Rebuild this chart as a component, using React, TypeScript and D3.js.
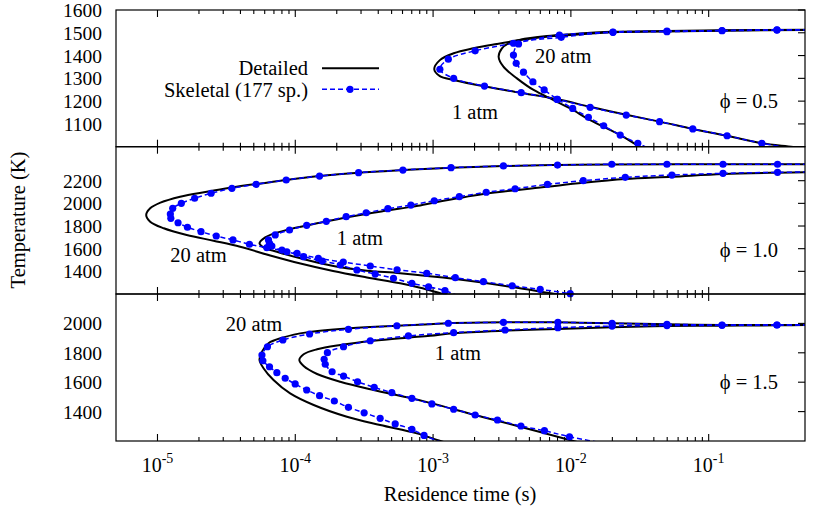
import React from 'react';
import * as d3 from 'd3';

type Pt = [number, number];

// x axis: residence time (s), log scale
const tauDomain: [number, number] = [5e-6, 0.5];
const tauDecades = [-5, -4, -3, -2, -1];

// y axes: temperature (K)
const tDomain05: [number, number] = [1000, 1600];
const tTicks05 = [1100, 1200, 1300, 1400, 1500, 1600];
const tDomain10: [number, number] = [1200, 2500];
const tTicks10 = [1400, 1600, 1800, 2000, 2200];
const tDomain15: [number, number] = [1200, 2200];
const tTicks15 = [1400, 1600, 1800, 2000];

// phi = 0.5  [tau (s), T (K)]
const phi05Detailed1atm: Pt[] = [
  [0.6, 1513], [0.125, 1509], [4.98e-2, 1506], [2.02e-2, 1502], [9.89e-3, 1490], [6.7e-3, 1483],
  [4.29e-3, 1468], [2.9e-3, 1451], [1.96e-3, 1432], [1.41e-3, 1410], [1.12e-3, 1380], [1.02e-3, 1340],
  [1.12e-3, 1310], [1.41e-3, 1293], [2.45e-3, 1263], [4.29e-3, 1237], [8.0e-3, 1208], [1.38e-2, 1175],
  [2.52e-2, 1140], [4.4e-2, 1110], [7.67e-2, 1078], [0.136, 1048], [0.243, 1015], [0.41, 999], [0.6, 985],
];
const phi05Skeletal1atm: Pt[] = [
  [0.6, 1513], [0.313, 1512], [0.125, 1509], [4.98e-2, 1505], [2.02e-2, 1502], [8.26e-3, 1490],
  [3.83e-3, 1454], [2.02e-3, 1421], [1.29e-3, 1384], [1.12e-3, 1340], [1.41e-3, 1300], [2.36e-3, 1266],
  [4.36e-3, 1237], [7.91e-3, 1208], [1.38e-2, 1173], [2.52e-2, 1139], [4.4e-2, 1110], [7.67e-2, 1078],
  [0.136, 1048], [0.243, 1015], [0.6, 977],
];
const phi05Detailed20atm: Pt[] = [
  [0.6, 1514], [0.125, 1511], [4.98e-2, 1508], [2.02e-2, 1504], [1.0e-2, 1494], [6.7e-3, 1486],
  [4.29e-3, 1470], [3.52e-3, 1454], [3.16e-3, 1432], [2.99e-3, 1395], [3.24e-3, 1351], [4.06e-3, 1300],
  [5.36e-3, 1249], [7.48e-3, 1205], [9.89e-3, 1168], [1.38e-2, 1117], [2.28e-2, 1051], [3.18e-2, 999],
  [4.0e-2, 970],
];
const phi05Skeletal20atm: Pt[] = [
  [0.6, 1514], [0.313, 1513], [0.125, 1510], [4.98e-2, 1507], [2.02e-2, 1503], [8.51e-3, 1480],
  [4.17e-3, 1451], [3.83e-3, 1402], [4.01e-3, 1366], [4.53e-3, 1327], [5.3e-3, 1285], [6.4e-3, 1249],
  [8.0e-3, 1208], [1.03e-2, 1168], [1.34e-2, 1129], [1.73e-2, 1092], [2.28e-2, 1051], [3.06e-2, 1015],
  [4.5e-2, 968],
];

// phi = 1.0
const phi10Detailed1atm: Pt[] = [
  [0.6, 2276], [0.316, 2271], [0.127, 2259], [5.41e-2, 2235], [2.48e-2, 2215], [1.23e-2, 2182],
  [6.76e-3, 2147], [2.32e-3, 2083], [1.02e-3, 2007], [8.06e-4, 1981], [5.77e-4, 1955], [4.37e-4, 1932],
  [2.5e-4, 1882], [1.44e-4, 1824], [9.71e-5, 1780], [7.35e-5, 1741], [6.05e-5, 1700], [5.5e-5, 1647],
  [5.88e-5, 1612], [7.35e-5, 1573], [1.09e-4, 1515], [1.89e-4, 1447], [3.31e-4, 1406], [5.77e-4, 1383],
  [1.45e-3, 1332], [3.75e-3, 1262], [7.69e-3, 1200], [1.0e-2, 1180],
];
const phi10Skeletal1atm: Pt[] = [
  [0.6, 2277], [0.316, 2274], [0.127, 2265], [5.41e-2, 2250], [2.48e-2, 2230], [1.23e-2, 2200],
  [6.76e-3, 2168], [3.94e-3, 2129], [2.43e-3, 2098], [1.55e-3, 2059], [1.02e-3, 2023], [6.9e-4, 1985],
  [4.7e-4, 1953], [3.27e-4, 1917], [2.34e-4, 1882], [1.68e-4, 1841], [1.21e-4, 1806], [9.08e-5, 1765],
  [7.15e-5, 1721], [6.39e-5, 1677], [6.5e-5, 1647], [6.76e-5, 1623], [8.0e-5, 1588], [1.03e-4, 1559],
  [1.47e-4, 1515], [2.23e-4, 1482], [3.5e-4, 1447], [5.48e-4, 1414], [9.0e-4, 1383], [1.45e-3, 1344],
  [2.32e-3, 1309], [3.75e-3, 1273], [5.99e-3, 1241], [9.89e-3, 1203], [1.5e-2, 1165],
];
const phi10Detailed20atm: Pt[] = [
  [0.6, 2346], [0.125, 2345], [2.0e-2, 2344], [8.0e-3, 2338], [3.24e-3, 2330], [1.35e-3, 2315],
  [6.04e-4, 2294], [2.88e-4, 2271], [1.5e-4, 2241], [8.59e-5, 2206], [6.58e-5, 2186], [5.26e-5, 2171],
  [3.37e-5, 2138], [2.28e-5, 2103], [1.46e-5, 2059], [1.05e-5, 2006], [8.85e-6, 1956], [8.28e-6, 1897],
  [8.85e-6, 1838], [1.11e-5, 1780], [1.63e-5, 1721], [2.55e-5, 1670], [3.98e-5, 1617], [6.58e-5, 1540],
  [1.09e-4, 1469], [1.88e-4, 1403], [3.31e-4, 1346], [5.77e-4, 1294], [8.06e-4, 1255], [1.19e-3, 1200],
  [1.5e-3, 1170],
];
const phi10Skeletal20atm: Pt[] = [
  [0.6, 2346], [0.316, 2345], [0.127, 2345], [4.98e-2, 2345], [1.98e-2, 2345], [8.0e-3, 2338],
  [3.24e-3, 2330], [1.35e-3, 2315], [6.04e-4, 2294], [2.88e-4, 2271], [1.5e-4, 2241], [8.59e-5, 2206],
  [5.2e-5, 2168], [3.47e-5, 2133], [2.45e-5, 2089], [1.86e-5, 2045], [1.49e-5, 2000], [1.29e-5, 1956],
  [1.24e-5, 1906], [1.25e-5, 1868], [1.41e-5, 1829], [1.65e-5, 1789], [2.07e-5, 1750], [2.67e-5, 1712],
  [3.53e-5, 1677], [4.65e-5, 1639], [6.22e-5, 1609], [8.69e-5, 1573], [1.15e-4, 1529], [1.57e-4, 1491],
  [2.12e-4, 1456], [2.8e-4, 1412], [3.8e-4, 1376], [5.16e-4, 1339], [7.02e-4, 1294], [9.27e-4, 1264],
  [1.22e-3, 1229], [1.7e-3, 1160],
];

// phi = 1.5
const phi15Detailed1atm: Pt[] = [
  [0.6, 1989], [0.313, 1987], [0.125, 1984], [4.98e-2, 1982], [1.99e-2, 1973], [8.05e-3, 1962],
  [3.24e-3, 1950], [1.41e-3, 1933], [9.53e-4, 1916], [6.46e-4, 1903], [3.69e-4, 1882], [2.12e-4, 1853],
  [1.44e-4, 1824], [1.15e-4, 1790], [1.07e-4, 1751], [1.15e-4, 1710], [1.44e-4, 1656], [2.12e-4, 1603],
  [3.69e-4, 1547], [6.46e-4, 1497], [9.8e-4, 1456], [2.02e-3, 1377], [4.29e-3, 1297], [1.04e-2, 1200],
  [1.3e-2, 1176],
];
const phi15Skeletal1atm: Pt[] = [
  [0.6, 1989], [0.313, 1989], [0.125, 1987], [4.98e-2, 1985], [1.99e-2, 1982], [8.05e-3, 1971],
  [3.33e-3, 1955], [1.41e-3, 1937], [6.62e-4, 1915], [3.5e-4, 1882], [2.24e-4, 1841], [1.71e-4, 1801],
  [1.62e-4, 1756], [1.65e-4, 1722], [1.85e-4, 1671], [2.24e-4, 1642], [2.83e-4, 1603], [3.74e-4, 1565],
  [5.02e-4, 1529], [7.02e-4, 1490], [9.8e-4, 1452], [1.41e-3, 1416], [2.02e-3, 1377], [2.93e-3, 1343],
  [4.34e-3, 1302], [6.43e-3, 1270], [9.77e-3, 1229], [2.0e-2, 1175],
];
const phi15Detailed20atm: Pt[] = [
  [0.6, 1989], [0.313, 1989], [0.125, 1989], [4.98e-2, 1994], [1.99e-2, 2001], [8.05e-3, 2007],
  [3.24e-3, 2007], [1.29e-3, 2001], [9.53e-4, 1994], [5.46e-4, 1984], [2.5e-4, 1967], [1.21e-4, 1939],
  [8.2e-5, 1905], [6.39e-5, 1865], [5.73e-5, 1807], [5.5e-5, 1751], [5.88e-5, 1695], [6.95e-5, 1615],
  [9.18e-5, 1524], [1.36e-4, 1445], [2.37e-4, 1365], [4.13e-4, 1309], [7.62e-4, 1252], [1.13e-3, 1200],
  [1.4e-3, 1175],
];
const phi15Skeletal20atm: Pt[] = [
  [0.6, 1989], [0.313, 1989], [0.125, 1989], [4.98e-2, 1994], [1.99e-2, 2001], [8.05e-3, 2007],
  [3.24e-3, 2007], [1.29e-3, 2001], [5.46e-4, 1984], [2.43e-4, 1960], [1.27e-4, 1928], [8.13e-5, 1887],
  [6.28e-5, 1841], [5.73e-5, 1785], [5.82e-5, 1746], [6.5e-5, 1705], [7.35e-5, 1665], [8.45e-5, 1627],
  [9.98e-5, 1588], [1.21e-4, 1547], [1.5e-4, 1508], [1.92e-4, 1472], [2.43e-4, 1429], [3.16e-4, 1392],
  [4.13e-4, 1354], [5.31e-4, 1316], [7.02e-4, 1280], [8.6e-4, 1238], [1.2e-3, 1185],
];

const W = 830;
const H = 512;
const LEFT = 116;
const RIGHT = 805;
const FONT = "'Liberation Serif', 'DejaVu Serif', serif";
const BLUE = '#0000ff';

const panels = [
  {
    id: 'p05', top: 10, bottom: 146.7, domain: tDomain05, ticks: tTicks05, phi: '0.5',
    detailed: [phi05Detailed1atm, phi05Detailed20atm], skeletal: [phi05Skeletal1atm, phi05Skeletal20atm],
    labels: [{ text: '20 atm', tau: 5.5e-3, T: 1366 }, { text: '1 atm', tau: 1.37e-3, T: 1120 }],
    phiT: 1168,
  },
  {
    id: 'p10', top: 146.7, bottom: 294, domain: tDomain10, ticks: tTicks10, phi: '1.0',
    detailed: [phi10Detailed1atm, phi10Detailed20atm], skeletal: [phi10Skeletal1atm, phi10Skeletal20atm],
    labels: [{ text: '20 atm', tau: 1.24e-5, T: 1485 }, { text: '1 atm', tau: 2.0e-4, T: 1632 }],
    phiT: 1529,
  },
  {
    id: 'p15', top: 294, bottom: 441, domain: tDomain15, ticks: tTicks15, phi: '1.5',
    detailed: [phi15Detailed1atm, phi15Detailed20atm], skeletal: [phi15Skeletal1atm, phi15Skeletal20atm],
    labels: [{ text: '20 atm', tau: 3.13e-5, T: 1950 }, { text: '1 atm', tau: 1.03e-3, T: 1751 }],
    phiT: 1552,
  },
];

const x = d3.scaleLog().domain(tauDomain).range([LEFT, RIGHT]);

const majorTicks = tauDecades.map(d => Math.pow(10, d));
const minorTicks: number[] = [];
tauDecades.slice(0, -1).forEach(d => {
  for (let k = 2; k <= 9; k++) minorTicks.push(k * Math.pow(10, d));
});

function Panel({ p, isBottom }: { p: typeof panels[number]; isBottom: boolean }) {
  const y = d3.scaleLinear().domain(p.domain).range([p.bottom, p.top]);
  const line = d3
    .line<Pt>()
    .x(d => x(d[0]))
    .y(d => y(d[1]))
    .curve(d3.curveCatmullRom.alpha(0.5));
  const inside = (d: Pt) =>
    d[0] >= tauDomain[0] && d[0] <= tauDomain[1] && d[1] >= p.domain[0] && d[1] <= p.domain[1];

  return (
    <g>
      <clipPath id={`clip-${p.id}`}>
        <rect x={LEFT} y={p.top} width={RIGHT - LEFT} height={p.bottom - p.top} />
      </clipPath>

      {/* x ticks on both edges, inward */}
      {majorTicks.map(t => (
        <g key={`M${t}`} stroke="#000" strokeWidth={1.1}>
          <line x1={x(t)} x2={x(t)} y1={p.bottom} y2={p.bottom - 7} />
          <line x1={x(t)} x2={x(t)} y1={p.top} y2={p.top + 7} />
        </g>
      ))}
      {minorTicks.map(t => (
        <g key={`m${t}`} stroke="#000" strokeWidth={1.1}>
          <line x1={x(t)} x2={x(t)} y1={p.bottom} y2={p.bottom - 4} />
          <line x1={x(t)} x2={x(t)} y1={p.top} y2={p.top + 4} />
        </g>
      ))}

      {/* y ticks (right side) and labels */}
      {p.ticks.map(v => (
        <g key={v}>
          <line x1={RIGHT} x2={RIGHT - 7} y1={y(v)} y2={y(v)} stroke="#000" strokeWidth={1.1} />
          <text x={102} y={y(v) + 7} textAnchor="end" fontSize={19.5}>
            {v}
          </text>
        </g>
      ))}

      <g clipPath={`url(#clip-${p.id})`} fill="none">
        {p.detailed.map((c, i) => (
          <path key={`d${i}`} d={line(c) || ''} stroke="#000" strokeWidth={2} />
        ))}
        {p.skeletal.map((c, i) => (
          <path key={`s${i}`} d={line(c) || ''} stroke={BLUE} strokeWidth={1.5} strokeDasharray="5,3" />
        ))}
      </g>
      {p.skeletal.map((c, i) => (
        <g key={`pts${i}`} fill={BLUE}>
          {c.filter(inside).map((d, j) => (
            <circle key={j} cx={x(d[0])} cy={y(d[1])} r={3.6} />
          ))}
        </g>
      ))}

      {p.labels.map(l => (
        <text key={l.text} x={x(l.tau)} y={y(l.T)} fontSize={20.5}>
          {l.text}
        </text>
      ))}
      <text x={RIGHT - 27} y={y(p.phiT)} textAnchor="end" fontSize={20.5}>
        {'\u03d5 = ' + p.phi}
      </text>

      <rect
        x={LEFT}
        y={p.top}
        width={RIGHT - LEFT}
        height={p.bottom - p.top}
        fill="none"
        stroke="#000"
        strokeWidth={1.2}
      />

      {isBottom &&
        tauDecades.map(d => (
          <text key={d} x={x(Math.pow(10, d))} y={472} textAnchor="middle" fontSize={20}>
            10
            <tspan dy={-9} fontSize={14}>
              {String(d)}
            </tspan>
          </text>
        ))}
    </g>
  );
}

export default function App() {
  return (
    <svg
      width={W}
      height={H}
      style={{ position: 'absolute', left: 0, top: 0, background: '#fff', fontFamily: FONT }}
    >
      {panels.map((p, i) => (
        <Panel key={p.id} p={p} isBottom={i === panels.length - 1} />
      ))}

      {/* legend */}
      <text x={308} y={75} textAnchor="end" fontSize={20.5}>
        Detailed
      </text>
      <line x1={322} x2={379} y1={68.3} y2={68.3} stroke="#000" strokeWidth={2} />
      <text x={308} y={96.5} textAnchor="end" fontSize={20.5}>
        Skeletal (177 sp.)
      </text>
      <line x1={322} x2={379} y1={89.3} y2={89.3} stroke={BLUE} strokeWidth={1.5} strokeDasharray="5,3" />
      <circle cx={350} cy={89.3} r={3.6} fill={BLUE} />

      {/* axis titles */}
      <text x={460} y={501} textAnchor="middle" fontSize={20.5}>
        Residence time (s)
      </text>
      <text transform="translate(25,220) rotate(-90)" textAnchor="middle" fontSize={20.5}>
        Temperature (K)
      </text>
    </svg>
  );
}
